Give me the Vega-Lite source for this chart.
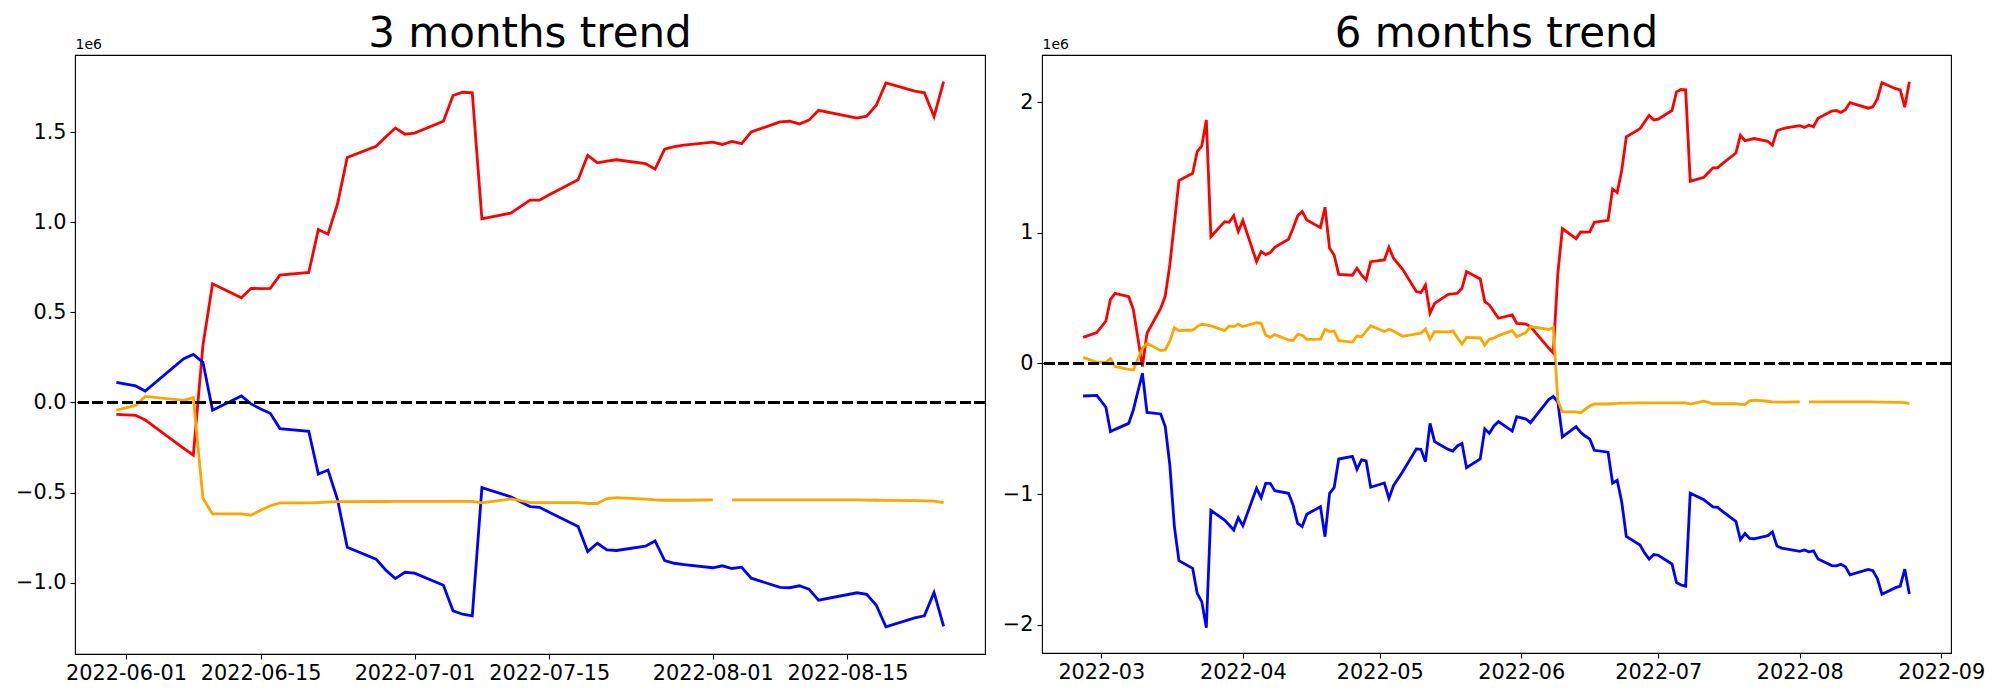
{
"$schema": "https://vega.github.io/schema/vega-lite/v6.json",
"background": "white",
"padding": {"left": 14, "top": 12, "right": 5, "bottom": 5},
"config": {
  "font": "DejaVu Sans",
  "view": {"stroke": "black", "strokeWidth": 1.1},
  "axis": {"grid": false, "domain": false, "tickColor": "black", "tickWidth": 1.1, "tickSize": 5, "labelColor": "black", "labelFont": "DejaVu Sans", "labelFontSize": 20.8, "labelPadding": 4, "labelFlush": false, "labelOverlap": false, "labelBound": false},
  "title": {"font": "DejaVu Sans", "fontSize": 42, "fontWeight": "normal", "color": "black", "anchor": "middle", "frame": "group", "offset": -19},
  "concat": {"spacing": 14}
},
"datasets": {
"m3": [
{"date":"2022-05-31","series":"red","value":-66000},{"date":"2022-05-31","series":"blue","value":112000},{"date":"2022-05-31","series":"orange","value":-43000},
{"date":"2022-06-02","series":"red","value":-71000},{"date":"2022-06-02","series":"blue","value":92000},{"date":"2022-06-02","series":"orange","value":-16000},
{"date":"2022-06-03","series":"red","value":-97000},{"date":"2022-06-03","series":"blue","value":64000},{"date":"2022-06-03","series":"orange","value":34000},
{"date":"2022-06-07","series":"red","value":-255000},{"date":"2022-06-07","series":"blue","value":243000},{"date":"2022-06-07","series":"orange","value":12000},
{"date":"2022-06-08","series":"red","value":-293000},{"date":"2022-06-08","series":"blue","value":267000},{"date":"2022-06-08","series":"orange","value":27000},
{"date":"2022-06-09","series":"red","value":317000},{"date":"2022-06-09","series":"blue","value":223000},{"date":"2022-06-09","series":"orange","value":-532000},
{"date":"2022-06-10","series":"red","value":659000},{"date":"2022-06-10","series":"blue","value":-43000},{"date":"2022-06-10","series":"orange","value":-619000},
{"date":"2022-06-13","series":"red","value":582000},{"date":"2022-06-13","series":"blue","value":36000},{"date":"2022-06-13","series":"orange","value":-619000},
{"date":"2022-06-14","series":"red","value":634000},{"date":"2022-06-14","series":"blue","value":-8000},{"date":"2022-06-14","series":"orange","value":-626000},
{"date":"2022-06-15","series":"red","value":632000},{"date":"2022-06-15","series":"blue","value":-36000},{"date":"2022-06-15","series":"orange","value":-598000},
{"date":"2022-06-16","series":"red","value":634000},{"date":"2022-06-16","series":"blue","value":-60000},{"date":"2022-06-16","series":"orange","value":-574000},
{"date":"2022-06-17","series":"red","value":707000},{"date":"2022-06-17","series":"blue","value":-145000},{"date":"2022-06-17","series":"orange","value":-558000},
{"date":"2022-06-20","series":"red","value":722000},{"date":"2022-06-20","series":"blue","value":-160000},{"date":"2022-06-20","series":"orange","value":-558000},
{"date":"2022-06-21","series":"red","value":961000},{"date":"2022-06-21","series":"blue","value":-397000},{"date":"2022-06-21","series":"orange","value":-556000},
{"date":"2022-06-22","series":"red","value":935000},{"date":"2022-06-22","series":"blue","value":-375000},{"date":"2022-06-22","series":"orange","value":-554000},
{"date":"2022-06-23","series":"red","value":1105000},{"date":"2022-06-23","series":"blue","value":-541000},{"date":"2022-06-23","series":"orange","value":-551000},
{"date":"2022-06-24","series":"red","value":1361000},{"date":"2022-06-24","series":"blue","value":-804000},{"date":"2022-06-24","series":"orange","value":-551000},
{"date":"2022-06-27","series":"red","value":1423000},{"date":"2022-06-27","series":"blue","value":-870000},{"date":"2022-06-27","series":"orange","value":-550000},
{"date":"2022-06-28","series":"red","value":1475000},{"date":"2022-06-28","series":"blue","value":-930000},{"date":"2022-06-28","series":"orange","value":-550000},
{"date":"2022-06-29","series":"red","value":1525000},{"date":"2022-06-29","series":"blue","value":-978000},{"date":"2022-06-29","series":"orange","value":-549000},
{"date":"2022-06-30","series":"red","value":1490000},{"date":"2022-06-30","series":"blue","value":-943000},{"date":"2022-06-30","series":"orange","value":-549000},
{"date":"2022-07-01","series":"red","value":1496000},{"date":"2022-07-01","series":"blue","value":-948000},{"date":"2022-07-01","series":"orange","value":-549000},
{"date":"2022-07-04","series":"red","value":1562000},{"date":"2022-07-04","series":"blue","value":-1015000},{"date":"2022-07-04","series":"orange","value":-549000},
{"date":"2022-07-05","series":"red","value":1705000},{"date":"2022-07-05","series":"blue","value":-1157000},{"date":"2022-07-05","series":"orange","value":-549000},
{"date":"2022-07-06","series":"red","value":1723000},{"date":"2022-07-06","series":"blue","value":-1176000},{"date":"2022-07-06","series":"orange","value":-549000},
{"date":"2022-07-07","series":"red","value":1720000},{"date":"2022-07-07","series":"blue","value":-1185000},{"date":"2022-07-07","series":"orange","value":-549000},
{"date":"2022-07-08","series":"red","value":1020000},{"date":"2022-07-08","series":"blue","value":-473000},{"date":"2022-07-08","series":"orange","value":-558000},
{"date":"2022-07-11","series":"red","value":1052000},{"date":"2022-07-11","series":"blue","value":-524000},{"date":"2022-07-11","series":"orange","value":-536000},
{"date":"2022-07-12","series":"red","value":1088000},{"date":"2022-07-12","series":"blue","value":-552000},{"date":"2022-07-12","series":"orange","value":-545000},
{"date":"2022-07-13","series":"red","value":1124000},{"date":"2022-07-13","series":"blue","value":-578000},{"date":"2022-07-13","series":"orange","value":-556000},
{"date":"2022-07-14","series":"red","value":1124000},{"date":"2022-07-14","series":"blue","value":-582000},{"date":"2022-07-14","series":"orange","value":-556000},
{"date":"2022-07-15","series":"red","value":1154000},{"date":"2022-07-15","series":"blue","value":-610000},{"date":"2022-07-15","series":"orange","value":-556000},
{"date":"2022-07-18","series":"red","value":1237000},{"date":"2022-07-18","series":"blue","value":-689000},{"date":"2022-07-18","series":"orange","value":-556000},
{"date":"2022-07-19","series":"red","value":1373000},{"date":"2022-07-19","series":"blue","value":-828000},{"date":"2022-07-19","series":"orange","value":-561000},
{"date":"2022-07-20","series":"red","value":1331000},{"date":"2022-07-20","series":"blue","value":-782000},{"date":"2022-07-20","series":"orange","value":-561000},
{"date":"2022-07-21","series":"red","value":1340000},{"date":"2022-07-21","series":"blue","value":-819000},{"date":"2022-07-21","series":"orange","value":-534000},
{"date":"2022-07-22","series":"red","value":1348000},{"date":"2022-07-22","series":"blue","value":-822000},{"date":"2022-07-22","series":"orange","value":-528000},
{"date":"2022-07-25","series":"red","value":1327000},{"date":"2022-07-25","series":"blue","value":-798000},{"date":"2022-07-25","series":"orange","value":-537000},
{"date":"2022-07-26","series":"red","value":1296000},{"date":"2022-07-26","series":"blue","value":-769000},{"date":"2022-07-26","series":"orange","value":-541000},
{"date":"2022-07-27","series":"red","value":1407000},{"date":"2022-07-27","series":"blue","value":-878000},{"date":"2022-07-27","series":"orange","value":-543000},
{"date":"2022-07-28","series":"red","value":1421000},{"date":"2022-07-28","series":"blue","value":-893000},{"date":"2022-07-28","series":"orange","value":-543000},
{"date":"2022-07-29","series":"red","value":1429000},{"date":"2022-07-29","series":"blue","value":-900000},{"date":"2022-07-29","series":"orange","value":-543000},
{"date":"2022-08-01","series":"red","value":1446000},{"date":"2022-08-01","series":"blue","value":-918000},{"date":"2022-08-01","series":"orange","value":-541000},
{"date":"2022-08-02","series":"red","value":1433000},{"date":"2022-08-02","series":"blue","value":-907000},{"date":"2022-08-02","series":"orange","value":null},
{"date":"2022-08-03","series":"red","value":1450000},{"date":"2022-08-03","series":"blue","value":-922000},{"date":"2022-08-03","series":"orange","value":-541000},
{"date":"2022-08-04","series":"red","value":1438000},{"date":"2022-08-04","series":"blue","value":-915000},{"date":"2022-08-04","series":"orange","value":-541000},
{"date":"2022-08-05","series":"red","value":1503000},{"date":"2022-08-05","series":"blue","value":-976000},{"date":"2022-08-05","series":"orange","value":-541000},
{"date":"2022-08-08","series":"red","value":1558000},{"date":"2022-08-08","series":"blue","value":-1027000},{"date":"2022-08-08","series":"orange","value":-541000},
{"date":"2022-08-09","series":"red","value":1562000},{"date":"2022-08-09","series":"blue","value":-1029000},{"date":"2022-08-09","series":"orange","value":-541000},
{"date":"2022-08-10","series":"red","value":1547000},{"date":"2022-08-10","series":"blue","value":-1018000},{"date":"2022-08-10","series":"orange","value":-541000},
{"date":"2022-08-11","series":"red","value":1568000},{"date":"2022-08-11","series":"blue","value":-1037000},{"date":"2022-08-11","series":"orange","value":-541000},
{"date":"2022-08-12","series":"red","value":1623000},{"date":"2022-08-12","series":"blue","value":-1098000},{"date":"2022-08-12","series":"orange","value":-541000},
{"date":"2022-08-16","series":"red","value":1580000},{"date":"2022-08-16","series":"blue","value":-1057000},{"date":"2022-08-16","series":"orange","value":-541000},
{"date":"2022-08-17","series":"red","value":1590000},{"date":"2022-08-17","series":"blue","value":-1066000},{"date":"2022-08-17","series":"orange","value":-542000},
{"date":"2022-08-18","series":"red","value":1651000},{"date":"2022-08-18","series":"blue","value":-1126000},{"date":"2022-08-18","series":"orange","value":-543000},
{"date":"2022-08-19","series":"red","value":1775000},{"date":"2022-08-19","series":"blue","value":-1246000},{"date":"2022-08-19","series":"orange","value":-544000},
{"date":"2022-08-22","series":"red","value":1729000},{"date":"2022-08-22","series":"blue","value":-1196000},{"date":"2022-08-22","series":"orange","value":-545000},
{"date":"2022-08-23","series":"red","value":1720000},{"date":"2022-08-23","series":"blue","value":-1185000},{"date":"2022-08-23","series":"orange","value":-546000},
{"date":"2022-08-24","series":"red","value":1588000},{"date":"2022-08-24","series":"blue","value":-1055000},{"date":"2022-08-24","series":"orange","value":-548000},
{"date":"2022-08-25","series":"red","value":1782000},{"date":"2022-08-25","series":"blue","value":-1244000},{"date":"2022-08-25","series":"orange","value":-556000}
],
"m6": [
{"date":"2022-02-25","series":"red","value":200000},{"date":"2022-02-25","series":"blue","value":-249000},{"date":"2022-02-25","series":"orange","value":47000},
{"date":"2022-02-28","series":"red","value":236000},{"date":"2022-02-28","series":"blue","value":-244000},{"date":"2022-02-28","series":"orange","value":9000},
{"date":"2022-03-02","series":"red","value":325000},{"date":"2022-03-02","series":"blue","value":-335000},{"date":"2022-03-02","series":"orange","value":9000},
{"date":"2022-03-03","series":"red","value":491000},{"date":"2022-03-03","series":"blue","value":-522000},{"date":"2022-03-03","series":"orange","value":37000},
{"date":"2022-03-04","series":"red","value":537000},{"date":"2022-03-04","series":"blue","value":-504000},{"date":"2022-03-04","series":"orange","value":-24000},
{"date":"2022-03-07","series":"red","value":511000},{"date":"2022-03-07","series":"blue","value":-458000},{"date":"2022-03-07","series":"orange","value":-45000},
{"date":"2022-03-08","series":"red","value":415000},{"date":"2022-03-08","series":"blue","value":-356000},{"date":"2022-03-08","series":"orange","value":-50000},
{"date":"2022-03-10","series":"red","value":-24000},{"date":"2022-03-10","series":"blue","value":-75000},{"date":"2022-03-10","series":"orange","value":116000},
{"date":"2022-03-11","series":"red","value":231000},{"date":"2022-03-11","series":"blue","value":-374000},{"date":"2022-03-11","series":"orange","value":154000},
{"date":"2022-03-14","series":"red","value":422000},{"date":"2022-03-14","series":"blue","value":-386000},{"date":"2022-03-14","series":"orange","value":98000},
{"date":"2022-03-15","series":"red","value":516000},{"date":"2022-03-15","series":"blue","value":-483000},{"date":"2022-03-15","series":"orange","value":103000},
{"date":"2022-03-16","series":"red","value":754000},{"date":"2022-03-16","series":"blue","value":-777000},{"date":"2022-03-16","series":"orange","value":170000},
{"date":"2022-03-17","series":"red","value":1073000},{"date":"2022-03-17","series":"blue","value":-1248000},{"date":"2022-03-17","series":"orange","value":274000},
{"date":"2022-03-18","series":"red","value":1399000},{"date":"2022-03-18","series":"blue","value":-1509000},{"date":"2022-03-18","series":"orange","value":251000},
{"date":"2022-03-21","series":"red","value":1455000},{"date":"2022-03-21","series":"blue","value":-1567000},{"date":"2022-03-21","series":"orange","value":256000},
{"date":"2022-03-22","series":"red","value":1621000},{"date":"2022-03-22","series":"blue","value":-1759000},{"date":"2022-03-22","series":"orange","value":282000},
{"date":"2022-03-23","series":"red","value":1664000},{"date":"2022-03-23","series":"blue","value":-1822000},{"date":"2022-03-23","series":"orange","value":300000},
{"date":"2022-03-24","series":"red","value":1863000},{"date":"2022-03-24","series":"blue","value":-2021000},{"date":"2022-03-24","series":"orange","value":295000},
{"date":"2022-03-25","series":"red","value":970000},{"date":"2022-03-25","series":"blue","value":-1124000},{"date":"2022-03-25","series":"orange","value":287000},
{"date":"2022-03-28","series":"red","value":1085000},{"date":"2022-03-28","series":"blue","value":-1198000},{"date":"2022-03-28","series":"orange","value":251000},
{"date":"2022-03-29","series":"red","value":1080000},{"date":"2022-03-29","series":"blue","value":-1236000},{"date":"2022-03-29","series":"orange","value":287000},
{"date":"2022-03-30","series":"red","value":1131000},{"date":"2022-03-30","series":"blue","value":-1274000},{"date":"2022-03-30","series":"orange","value":282000},
{"date":"2022-03-31","series":"red","value":1009000},{"date":"2022-03-31","series":"blue","value":-1180000},{"date":"2022-03-31","series":"orange","value":302000},
{"date":"2022-04-01","series":"red","value":1093000},{"date":"2022-04-01","series":"blue","value":-1241000},{"date":"2022-04-01","series":"orange","value":282000},
{"date":"2022-04-04","series":"red","value":779000},{"date":"2022-04-04","series":"blue","value":-955000},{"date":"2022-04-04","series":"orange","value":312000},
{"date":"2022-04-05","series":"red","value":856000},{"date":"2022-04-05","series":"blue","value":-1027000},{"date":"2022-04-05","series":"orange","value":307000},
{"date":"2022-04-06","series":"red","value":833000},{"date":"2022-04-06","series":"blue","value":-917000},{"date":"2022-04-06","series":"orange","value":218000},
{"date":"2022-04-07","series":"red","value":848000},{"date":"2022-04-07","series":"blue","value":-917000},{"date":"2022-04-07","series":"orange","value":200000},
{"date":"2022-04-08","series":"red","value":889000},{"date":"2022-04-08","series":"blue","value":-973000},{"date":"2022-04-08","series":"orange","value":221000},
{"date":"2022-04-11","series":"red","value":950000},{"date":"2022-04-11","series":"blue","value":-993000},{"date":"2022-04-11","series":"orange","value":180000},
{"date":"2022-04-12","series":"red","value":1034000},{"date":"2022-04-12","series":"blue","value":-1083000},{"date":"2022-04-12","series":"orange","value":175000},
{"date":"2022-04-13","series":"red","value":1129000},{"date":"2022-04-13","series":"blue","value":-1223000},{"date":"2022-04-13","series":"orange","value":223000},
{"date":"2022-04-14","series":"red","value":1162000},{"date":"2022-04-14","series":"blue","value":-1248000},{"date":"2022-04-14","series":"orange","value":216000},
{"date":"2022-04-15","series":"red","value":1098000},{"date":"2022-04-15","series":"blue","value":-1154000},{"date":"2022-04-15","series":"orange","value":185000},
{"date":"2022-04-18","series":"red","value":1039000},{"date":"2022-04-18","series":"blue","value":-1096000},{"date":"2022-04-18","series":"orange","value":187000},
{"date":"2022-04-19","series":"red","value":1195000},{"date":"2022-04-19","series":"blue","value":-1325000},{"date":"2022-04-19","series":"orange","value":261000},
{"date":"2022-04-20","series":"red","value":881000},{"date":"2022-04-20","series":"blue","value":-993000},{"date":"2022-04-20","series":"orange","value":244000},
{"date":"2022-04-21","series":"red","value":830000},{"date":"2022-04-21","series":"blue","value":-950000},{"date":"2022-04-21","series":"orange","value":249000},
{"date":"2022-04-22","series":"red","value":682000},{"date":"2022-04-22","series":"blue","value":-731000},{"date":"2022-04-22","series":"orange","value":175000},
{"date":"2022-04-25","series":"red","value":675000},{"date":"2022-04-25","series":"blue","value":-710000},{"date":"2022-04-25","series":"orange","value":164000},
{"date":"2022-04-26","series":"red","value":728000},{"date":"2022-04-26","series":"blue","value":-810000},{"date":"2022-04-26","series":"orange","value":210000},
{"date":"2022-04-27","series":"red","value":677000},{"date":"2022-04-27","series":"blue","value":-738000},{"date":"2022-04-27","series":"orange","value":205000},
{"date":"2022-04-28","series":"red","value":639000},{"date":"2022-04-28","series":"blue","value":-746000},{"date":"2022-04-28","series":"orange","value":246000},
{"date":"2022-04-29","series":"red","value":779000},{"date":"2022-04-29","series":"blue","value":-947000},{"date":"2022-04-29","series":"orange","value":289000},
{"date":"2022-05-02","series":"red","value":792000},{"date":"2022-05-02","series":"blue","value":-914000},{"date":"2022-05-02","series":"orange","value":244000},
{"date":"2022-05-03","series":"red","value":889000},{"date":"2022-05-03","series":"blue","value":-1032000},{"date":"2022-05-03","series":"orange","value":261000},
{"date":"2022-05-04","series":"red","value":805000},{"date":"2022-05-04","series":"blue","value":-935000},{"date":"2022-05-04","series":"orange","value":249000},
{"date":"2022-05-06","series":"red","value":720000},{"date":"2022-05-06","series":"blue","value":-828000},{"date":"2022-05-06","series":"orange","value":208000},
{"date":"2022-05-09","series":"red","value":550000},{"date":"2022-05-09","series":"blue","value":-654000},{"date":"2022-05-09","series":"orange","value":226000},
{"date":"2022-05-10","series":"red","value":542000},{"date":"2022-05-10","series":"blue","value":-657000},{"date":"2022-05-10","series":"orange","value":231000},
{"date":"2022-05-11","series":"red","value":601000},{"date":"2022-05-11","series":"blue","value":-751000},{"date":"2022-05-11","series":"orange","value":264000},
{"date":"2022-05-12","series":"red","value":384000},{"date":"2022-05-12","series":"blue","value":-458000},{"date":"2022-05-12","series":"orange","value":185000},
{"date":"2022-05-13","series":"red","value":460000},{"date":"2022-05-13","series":"blue","value":-598000},{"date":"2022-05-13","series":"orange","value":244000},
{"date":"2022-05-16","series":"red","value":529000},{"date":"2022-05-16","series":"blue","value":-657000},{"date":"2022-05-16","series":"orange","value":241000},
{"date":"2022-05-17","series":"red","value":532000},{"date":"2022-05-17","series":"blue","value":-670000},{"date":"2022-05-17","series":"orange","value":249000},
{"date":"2022-05-18","series":"red","value":537000},{"date":"2022-05-18","series":"blue","value":-631000},{"date":"2022-05-18","series":"orange","value":198000},
{"date":"2022-05-19","series":"red","value":575000},{"date":"2022-05-19","series":"blue","value":-611000},{"date":"2022-05-19","series":"orange","value":147000},
{"date":"2022-05-20","series":"red","value":703000},{"date":"2022-05-20","series":"blue","value":-797000},{"date":"2022-05-20","series":"orange","value":200000},
{"date":"2022-05-23","series":"red","value":647000},{"date":"2022-05-23","series":"blue","value":-731000},{"date":"2022-05-23","series":"orange","value":195000},
{"date":"2022-05-24","series":"red","value":473000},{"date":"2022-05-24","series":"blue","value":-501000},{"date":"2022-05-24","series":"orange","value":139000},
{"date":"2022-05-25","series":"red","value":448000},{"date":"2022-05-25","series":"blue","value":-534000},{"date":"2022-05-25","series":"orange","value":187000},
{"date":"2022-05-26","series":"red","value":397000},{"date":"2022-05-26","series":"blue","value":-478000},{"date":"2022-05-26","series":"orange","value":193000},
{"date":"2022-05-27","series":"red","value":346000},{"date":"2022-05-27","series":"blue","value":-445000},{"date":"2022-05-27","series":"orange","value":213000},
{"date":"2022-05-30","series":"red","value":371000},{"date":"2022-05-30","series":"blue","value":-517000},{"date":"2022-05-30","series":"orange","value":251000},
{"date":"2022-05-31","series":"red","value":307000},{"date":"2022-05-31","series":"blue","value":-407000},{"date":"2022-05-31","series":"orange","value":205000},
{"date":"2022-06-02","series":"red","value":302000},{"date":"2022-06-02","series":"blue","value":-425000},{"date":"2022-06-02","series":"orange","value":236000},
{"date":"2022-06-03","series":"red","value":282000},{"date":"2022-06-03","series":"blue","value":-453000},{"date":"2022-06-03","series":"orange","value":282000},
{"date":"2022-06-07","series":"red","value":118000},{"date":"2022-06-07","series":"blue","value":-276000},{"date":"2022-06-07","series":"orange","value":260000},
{"date":"2022-06-08","series":"red","value":80000},{"date":"2022-06-08","series":"blue","value":-252000},{"date":"2022-06-08","series":"orange","value":275000},
{"date":"2022-06-09","series":"red","value":690000},{"date":"2022-06-09","series":"blue","value":-296000},{"date":"2022-06-09","series":"orange","value":-284000},
{"date":"2022-06-10","series":"red","value":1032000},{"date":"2022-06-10","series":"blue","value":-562000},{"date":"2022-06-10","series":"orange","value":-371000},
{"date":"2022-06-13","series":"red","value":955000},{"date":"2022-06-13","series":"blue","value":-483000},{"date":"2022-06-13","series":"orange","value":-371000},
{"date":"2022-06-14","series":"red","value":1007000},{"date":"2022-06-14","series":"blue","value":-527000},{"date":"2022-06-14","series":"orange","value":-378000},
{"date":"2022-06-15","series":"red","value":1005000},{"date":"2022-06-15","series":"blue","value":-555000},{"date":"2022-06-15","series":"orange","value":-350000},
{"date":"2022-06-16","series":"red","value":1007000},{"date":"2022-06-16","series":"blue","value":-579000},{"date":"2022-06-16","series":"orange","value":-326000},
{"date":"2022-06-17","series":"red","value":1080000},{"date":"2022-06-17","series":"blue","value":-664000},{"date":"2022-06-17","series":"orange","value":-310000},
{"date":"2022-06-20","series":"red","value":1095000},{"date":"2022-06-20","series":"blue","value":-679000},{"date":"2022-06-20","series":"orange","value":-310000},
{"date":"2022-06-21","series":"red","value":1334000},{"date":"2022-06-21","series":"blue","value":-916000},{"date":"2022-06-21","series":"orange","value":-308000},
{"date":"2022-06-22","series":"red","value":1308000},{"date":"2022-06-22","series":"blue","value":-894000},{"date":"2022-06-22","series":"orange","value":-306000},
{"date":"2022-06-23","series":"red","value":1478000},{"date":"2022-06-23","series":"blue","value":-1060000},{"date":"2022-06-23","series":"orange","value":-303000},
{"date":"2022-06-24","series":"red","value":1734000},{"date":"2022-06-24","series":"blue","value":-1323000},{"date":"2022-06-24","series":"orange","value":-303000},
{"date":"2022-06-27","series":"red","value":1796000},{"date":"2022-06-27","series":"blue","value":-1389000},{"date":"2022-06-27","series":"orange","value":-302000},
{"date":"2022-06-28","series":"red","value":1848000},{"date":"2022-06-28","series":"blue","value":-1449000},{"date":"2022-06-28","series":"orange","value":-302000},
{"date":"2022-06-29","series":"red","value":1898000},{"date":"2022-06-29","series":"blue","value":-1497000},{"date":"2022-06-29","series":"orange","value":-301000},
{"date":"2022-06-30","series":"red","value":1863000},{"date":"2022-06-30","series":"blue","value":-1462000},{"date":"2022-06-30","series":"orange","value":-301000},
{"date":"2022-07-01","series":"red","value":1869000},{"date":"2022-07-01","series":"blue","value":-1467000},{"date":"2022-07-01","series":"orange","value":-301000},
{"date":"2022-07-04","series":"red","value":1935000},{"date":"2022-07-04","series":"blue","value":-1534000},{"date":"2022-07-04","series":"orange","value":-301000},
{"date":"2022-07-05","series":"red","value":2078000},{"date":"2022-07-05","series":"blue","value":-1676000},{"date":"2022-07-05","series":"orange","value":-301000},
{"date":"2022-07-06","series":"red","value":2096000},{"date":"2022-07-06","series":"blue","value":-1695000},{"date":"2022-07-06","series":"orange","value":-301000},
{"date":"2022-07-07","series":"red","value":2093000},{"date":"2022-07-07","series":"blue","value":-1704000},{"date":"2022-07-07","series":"orange","value":-301000},
{"date":"2022-07-08","series":"red","value":1393000},{"date":"2022-07-08","series":"blue","value":-992000},{"date":"2022-07-08","series":"orange","value":-310000},
{"date":"2022-07-11","series":"red","value":1425000},{"date":"2022-07-11","series":"blue","value":-1043000},{"date":"2022-07-11","series":"orange","value":-288000},
{"date":"2022-07-12","series":"red","value":1461000},{"date":"2022-07-12","series":"blue","value":-1071000},{"date":"2022-07-12","series":"orange","value":-297000},
{"date":"2022-07-13","series":"red","value":1497000},{"date":"2022-07-13","series":"blue","value":-1097000},{"date":"2022-07-13","series":"orange","value":-308000},
{"date":"2022-07-14","series":"red","value":1497000},{"date":"2022-07-14","series":"blue","value":-1101000},{"date":"2022-07-14","series":"orange","value":-308000},
{"date":"2022-07-15","series":"red","value":1527000},{"date":"2022-07-15","series":"blue","value":-1129000},{"date":"2022-07-15","series":"orange","value":-308000},
{"date":"2022-07-18","series":"red","value":1610000},{"date":"2022-07-18","series":"blue","value":-1208000},{"date":"2022-07-18","series":"orange","value":-308000},
{"date":"2022-07-19","series":"red","value":1746000},{"date":"2022-07-19","series":"blue","value":-1347000},{"date":"2022-07-19","series":"orange","value":-313000},
{"date":"2022-07-20","series":"red","value":1704000},{"date":"2022-07-20","series":"blue","value":-1301000},{"date":"2022-07-20","series":"orange","value":-313000},
{"date":"2022-07-21","series":"red","value":1713000},{"date":"2022-07-21","series":"blue","value":-1338000},{"date":"2022-07-21","series":"orange","value":-286000},
{"date":"2022-07-22","series":"red","value":1721000},{"date":"2022-07-22","series":"blue","value":-1341000},{"date":"2022-07-22","series":"orange","value":-280000},
{"date":"2022-07-25","series":"red","value":1700000},{"date":"2022-07-25","series":"blue","value":-1317000},{"date":"2022-07-25","series":"orange","value":-289000},
{"date":"2022-07-26","series":"red","value":1669000},{"date":"2022-07-26","series":"blue","value":-1288000},{"date":"2022-07-26","series":"orange","value":-293000},
{"date":"2022-07-27","series":"red","value":1780000},{"date":"2022-07-27","series":"blue","value":-1397000},{"date":"2022-07-27","series":"orange","value":-295000},
{"date":"2022-07-28","series":"red","value":1794000},{"date":"2022-07-28","series":"blue","value":-1412000},{"date":"2022-07-28","series":"orange","value":-295000},
{"date":"2022-07-29","series":"red","value":1802000},{"date":"2022-07-29","series":"blue","value":-1419000},{"date":"2022-07-29","series":"orange","value":-295000},
{"date":"2022-08-01","series":"red","value":1819000},{"date":"2022-08-01","series":"blue","value":-1437000},{"date":"2022-08-01","series":"orange","value":-293000},
{"date":"2022-08-02","series":"red","value":1806000},{"date":"2022-08-02","series":"blue","value":-1426000},{"date":"2022-08-02","series":"orange","value":null},
{"date":"2022-08-03","series":"red","value":1823000},{"date":"2022-08-03","series":"blue","value":-1441000},{"date":"2022-08-03","series":"orange","value":-293000},
{"date":"2022-08-04","series":"red","value":1811000},{"date":"2022-08-04","series":"blue","value":-1434000},{"date":"2022-08-04","series":"orange","value":-293000},
{"date":"2022-08-05","series":"red","value":1876000},{"date":"2022-08-05","series":"blue","value":-1495000},{"date":"2022-08-05","series":"orange","value":-293000},
{"date":"2022-08-08","series":"red","value":1931000},{"date":"2022-08-08","series":"blue","value":-1546000},{"date":"2022-08-08","series":"orange","value":-293000},
{"date":"2022-08-09","series":"red","value":1935000},{"date":"2022-08-09","series":"blue","value":-1548000},{"date":"2022-08-09","series":"orange","value":-293000},
{"date":"2022-08-10","series":"red","value":1920000},{"date":"2022-08-10","series":"blue","value":-1537000},{"date":"2022-08-10","series":"orange","value":-293000},
{"date":"2022-08-11","series":"red","value":1941000},{"date":"2022-08-11","series":"blue","value":-1556000},{"date":"2022-08-11","series":"orange","value":-293000},
{"date":"2022-08-12","series":"red","value":1996000},{"date":"2022-08-12","series":"blue","value":-1617000},{"date":"2022-08-12","series":"orange","value":-293000},
{"date":"2022-08-16","series":"red","value":1953000},{"date":"2022-08-16","series":"blue","value":-1576000},{"date":"2022-08-16","series":"orange","value":-293000},
{"date":"2022-08-17","series":"red","value":1963000},{"date":"2022-08-17","series":"blue","value":-1585000},{"date":"2022-08-17","series":"orange","value":-294000},
{"date":"2022-08-18","series":"red","value":2024000},{"date":"2022-08-18","series":"blue","value":-1645000},{"date":"2022-08-18","series":"orange","value":-295000},
{"date":"2022-08-19","series":"red","value":2148000},{"date":"2022-08-19","series":"blue","value":-1765000},{"date":"2022-08-19","series":"orange","value":-296000},
{"date":"2022-08-22","series":"red","value":2102000},{"date":"2022-08-22","series":"blue","value":-1715000},{"date":"2022-08-22","series":"orange","value":-297000},
{"date":"2022-08-23","series":"red","value":2093000},{"date":"2022-08-23","series":"blue","value":-1704000},{"date":"2022-08-23","series":"orange","value":-298000},
{"date":"2022-08-24","series":"red","value":1961000},{"date":"2022-08-24","series":"blue","value":-1574000},{"date":"2022-08-24","series":"orange","value":-300000},
{"date":"2022-08-25","series":"red","value":2155000},{"date":"2022-08-25","series":"blue","value":-1763000},{"date":"2022-08-25","series":"orange","value":-308000}
]
},
"hconcat": [
{
  "title": {"text": "3 months trend"},
  "width": 910, "height": 599,
  "data": {"name": "m3"},
  "layer": [
    {"mark": {"type": "line", "strokeWidth": 2.8, "clip": true},
     "encoding": {
       "x": {"field": "date", "type": "temporal",
             "scale": {"type": "utc", "domain": [{"year": 2022, "month": 5, "date": 26, "hours": 16, "minutes": 48, "utc": true}, {"year": 2022, "month": 8, "date": 29, "hours": 7, "minutes": 12, "utc": true}]},
             "axis": {"title": null, "format": "%Y-%m-%d", "values": [{"year": 2022, "month": 6, "date": 1, "utc": true}, {"year": 2022, "month": 6, "date": 15, "utc": true}, {"year": 2022, "month": 7, "date": 1, "utc": true}, {"year": 2022, "month": 7, "date": 15, "utc": true}, {"year": 2022, "month": 8, "date": 1, "utc": true}, {"year": 2022, "month": 8, "date": 15, "utc": true}]}},
       "y": {"field": "value", "type": "quantitative",
             "scale": {"domain": [-1397000, 1930000], "nice": false, "zero": false},
             "axis": {"values": [-1000000, -500000, 0, 500000, 1000000, 1500000], "labelExpr": "format(datum.value / 1000000, '.1f')",
                      "title": "1e6", "titleAngle": 0, "titleX": 0, "titleY": -4, "titleAlign": "left", "titleBaseline": "bottom", "titleFontSize": 14, "titleFontWeight": "normal", "titleColor": "black", "titleFont": "DejaVu Sans"}},
       "color": {"field": "series", "type": "nominal", "scale": {"domain": ["red", "blue", "orange"], "range": ["#ff0000", "#0000ff", "#ffa500"]}, "legend": null}
     }},
    {"mark": {"type": "rule", "color": "black", "strokeWidth": 2.4, "strokeDash": [10.3, 4.4]},
     "encoding": {"y": {"datum": 0}}}
  ]
},
{
  "title": {"text": "6 months trend"},
  "width": 909, "height": 598,
  "data": {"name": "m6"},
  "layer": [
    {"mark": {"type": "line", "strokeWidth": 2.8, "clip": true},
     "encoding": {
       "x": {"field": "date", "type": "temporal",
             "scale": {"type": "utc", "domain": [{"year": 2022, "month": 2, "date": 16, "hours": 0, "utc": true}, {"year": 2022, "month": 9, "date": 3, "hours": 3, "utc": true}]},
             "axis": {"title": null, "format": "%Y-%m", "values": [{"year": 2022, "month": 3, "date": 1, "utc": true}, {"year": 2022, "month": 4, "date": 1, "utc": true}, {"year": 2022, "month": 5, "date": 1, "utc": true}, {"year": 2022, "month": 6, "date": 1, "utc": true}, {"year": 2022, "month": 7, "date": 1, "utc": true}, {"year": 2022, "month": 8, "date": 1, "utc": true}, {"year": 2022, "month": 9, "date": 1, "utc": true}]}},
       "y": {"field": "value", "type": "quantitative",
             "scale": {"domain": [-2215000, 2360000], "nice": false, "zero": false},
             "axis": {"values": [-2000000, -1000000, 0, 1000000, 2000000], "labelExpr": "format(datum.value / 1000000, 'd')",
                      "title": "1e6", "titleAngle": 0, "titleX": 0, "titleY": -4, "titleAlign": "left", "titleBaseline": "bottom", "titleFontSize": 14, "titleFontWeight": "normal", "titleColor": "black", "titleFont": "DejaVu Sans"}},
       "color": {"field": "series", "type": "nominal", "scale": {"domain": ["red", "blue", "orange"], "range": ["#ff0000", "#0000ff", "#ffa500"]}, "legend": null}
     }},
    {"mark": {"type": "rule", "color": "black", "strokeWidth": 2.4, "strokeDash": [10.3, 4.4]},
     "encoding": {"y": {"datum": 0}}}
  ]
}
]
}
